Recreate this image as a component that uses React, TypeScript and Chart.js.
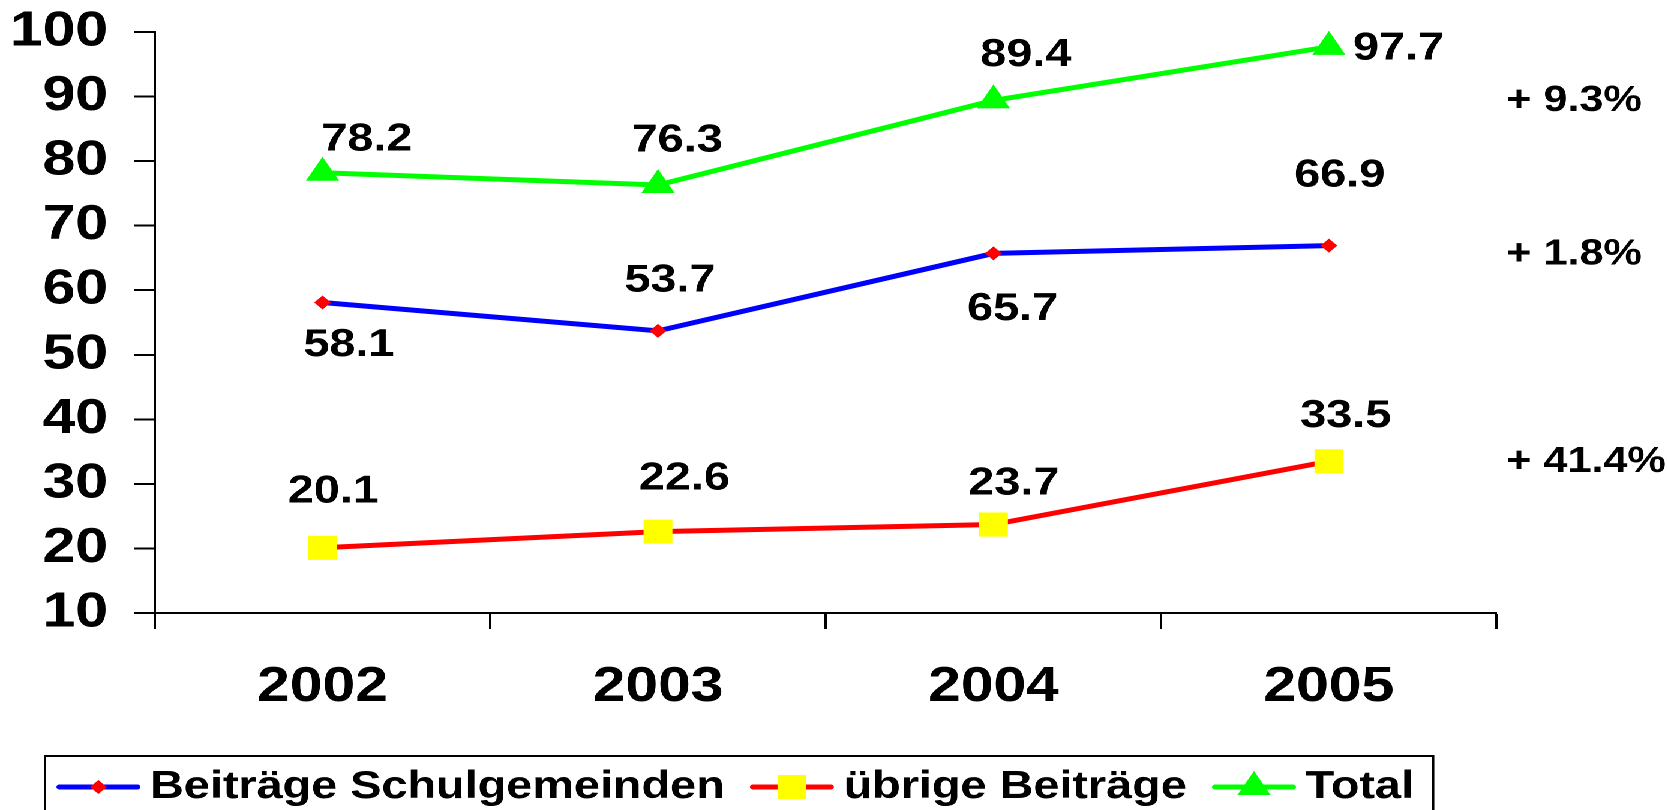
import React, { useEffect, useRef } from 'react';
import { Chart, registerables } from 'chart.js';

Chart.register(...registerables);

// ---- data ----
const years = ['2002', '2003', '2004', '2005'];
const seriesNames = ['Beiträge Schulgemeinden', 'übrige Beiträge', 'Total'];
const schulgemeinden = [58.1, 53.7, 65.7, 66.9];
const uebrige = [20.1, 22.6, 23.7, 33.5];
const total = [78.2, 76.3, 89.4, 97.7];
const yTickMin = 10;
const yTickMax = 100;
const yTickStep = 10;
const changeLabels = ['+ 9.3%', '+ 1.8%', '+ 41.4%'];
const changeLevels = [89.3, 65.5, 33.4];

// ---- styling / layout ----
const STRETCH = 1.2; // reference is horizontally stretched
const FONT = '"Liberation Sans", Arial, Helvetica, sans-serif';
const LABEL_OFFSETS = [
  [[22, 43], [10, -50], [16, 56], [9, -70]],
  [[9, -56], [22, -53], [17, -41], [14, -45]],
  [[37, -33], [16, -44], [27, -45], [58, 2]],
];

function drawMarker(ctx: CanvasRenderingContext2D, style: string, r: number, x: number, y: number) {
  ctx.beginPath();
  if (style === 'rectRot') {
    ctx.moveTo(x, y - r);
    ctx.lineTo(x + r, y);
    ctx.lineTo(x, y + r);
    ctx.lineTo(x - r, y);
  } else if (style === 'rect') {
    const s = Math.SQRT1_2 * r;
    ctx.rect(x - s, y - s, 2 * s, 2 * s);
  } else if (style === 'triangle') {
    for (let k = 0; k < 3; k++) {
      const a = (k * 2 * Math.PI) / 3;
      const px = x + Math.sin(a) * r;
      const py = y - Math.cos(a) * r;
      if (k === 0) ctx.moveTo(px, py);
      else ctx.lineTo(px, py);
    }
  }
  ctx.closePath();
  ctx.fill();
}

const valueLabelPlugin = {
  id: 'valueLabels',
  afterDatasetsDraw(chart: any) {
    const ctx = chart.ctx;
    ctx.save();
    ctx.font = `bold 39px ${FONT}`;
    ctx.fillStyle = '#000';
    ctx.textAlign = 'center';
    ctx.textBaseline = 'middle';
    chart.data.datasets.forEach((ds: any, i: number) => {
      const meta = chart.getDatasetMeta(i);
      meta.data.forEach((pt: any, j: number) => {
        const [dx, dy] = LABEL_OFFSETS[i][j];
        ctx.fillText(Number(ds.data[j]).toFixed(1), pt.x + dx, pt.y + dy);
      });
    });
    ctx.restore();
  },
};

const changePlugin = {
  id: 'changeLabels',
  afterDraw(chart: any) {
    const ctx = chart.ctx;
    const yScale = chart.scales.y;
    ctx.save();
    ctx.font = `bold 36px ${FONT}`;
    ctx.fillStyle = '#000';
    ctx.textAlign = 'left';
    ctx.textBaseline = 'middle';
    changeLabels.forEach((t, i) => {
      ctx.fillText(t, chart.chartArea.right + 8, yScale.getPixelForValue(changeLevels[i]));
    });
    ctx.restore();
  },
};

const boxLegendPlugin = {
  id: 'boxLegend',
  afterDraw(chart: any) {
    const ctx = chart.ctx;
    const cy = 787;
    const left = 37.5;
    let x = 47;
    ctx.save();
    ctx.font = `bold 39px ${FONT}`;
    ctx.textAlign = 'left';
    ctx.textBaseline = 'middle';
    chart.data.datasets.forEach((ds: any) => {
      ctx.strokeStyle = ds.borderColor;
      ctx.lineWidth = 5;
      ctx.lineCap = 'round';
      ctx.beginPath();
      ctx.moveTo(x + 2.5, cy);
      ctx.lineTo(x + 67.5, cy);
      ctx.stroke();
      ctx.fillStyle = ds.pointBackgroundColor;
      drawMarker(ctx, ds.pointStyle, ds.pointRadius, x + 35, cy);
      ctx.fillStyle = '#000';
      const tx = x + 78;
      ctx.fillText(ds.label, tx, cy);
      x = tx + ctx.measureText(ds.label).width + 21;
    });
    const right = x - 21 + 16;
    ctx.strokeStyle = '#000';
    ctx.lineWidth = 2;
    ctx.lineCap = 'butt';
    ctx.strokeRect(left, 756, right - left, 120);
    ctx.restore();
  },
};

export default function App() {
  const canvasRef = useRef<HTMLCanvasElement | null>(null);

  useEffect(() => {
    if (!canvasRef.current) return;
    const chart = new Chart(canvasRef.current, {
      type: 'line',
      data: {
        labels: years,
        datasets: [
          {
            label: seriesNames[0],
            data: schulgemeinden,
            borderColor: '#0000FF',
            borderWidth: 5,
            pointStyle: 'rectRot',
            pointRadius: 7,
            pointBackgroundColor: '#FF0000',
            pointBorderColor: '#FF0000',
            pointBorderWidth: 0,
            tension: 0,
            clip: false,
          },
          {
            label: seriesNames[1],
            data: uebrige,
            borderColor: '#FF0000',
            borderWidth: 5,
            pointStyle: 'rect',
            pointRadius: 17,
            pointBackgroundColor: '#FFFF00',
            pointBorderColor: '#FFFF00',
            pointBorderWidth: 0,
            tension: 0,
            clip: false,
          },
          {
            label: seriesNames[2],
            data: total,
            borderColor: '#00FF00',
            borderWidth: 5,
            pointStyle: 'triangle',
            pointRadius: 16,
            pointBackgroundColor: '#00FF00',
            pointBorderColor: '#00FF00',
            pointBorderWidth: 0,
            tension: 0,
            clip: false,
          },
        ] as any,
      },
      options: {
        animation: false,
        responsive: true,
        maintainAspectRatio: false,
        devicePixelRatio: 2,
        layout: { padding: { top: 32, bottom: 93, left: 0, right: 142 } },
        plugins: {
          legend: { display: false },
          tooltip: { enabled: false },
          title: { display: false },
        },
        scales: {
          x: {
            type: 'category',
            offset: true,
            afterFit: (s: any) => {
              s.height = 104;
            },
            grid: {
              display: true,
              offset: true,
              drawOnChartArea: false,
              drawTicks: true,
              tickLength: 16,
              tickColor: '#000',
              tickWidth: 2,
            },
            border: { display: true, color: '#000', width: 2 },
            ticks: {
              color: '#000',
              padding: 29,
              maxRotation: 0,
              autoSkip: false,
              font: { family: FONT, size: 49, weight: 'bold', lineHeight: 1.2 },
            },
          },
          y: {
            type: 'linear',
            min: yTickMin,
            max: yTickMax,
            afterFit: (s: any) => {
              s.width = 129;
            },
            grid: {
              display: true,
              drawOnChartArea: false,
              drawTicks: true,
              tickLength: 17,
              tickColor: '#000',
              tickWidth: 2,
            },
            border: { display: true, color: '#000', width: 2 },
            ticks: {
              stepSize: yTickStep,
              color: '#000',
              padding: 22,
              font: { family: FONT, size: 49, weight: 'bold', lineHeight: 0.2 },
            },
          },
        },
      } as any,
      plugins: [valueLabelPlugin, changePlugin, boxLegendPlugin],
    });
    return () => chart.destroy();
  }, []);

  return (
    <div
      style={{
        position: 'fixed',
        left: 0,
        top: 0,
        width: `${1667 / STRETCH}px`,
        height: '810px',
        transform: `scaleX(${STRETCH})`,
        transformOrigin: '0 0',
        background: '#fff',
      }}
    >
      <canvas ref={canvasRef} />
    </div>
  );
}
